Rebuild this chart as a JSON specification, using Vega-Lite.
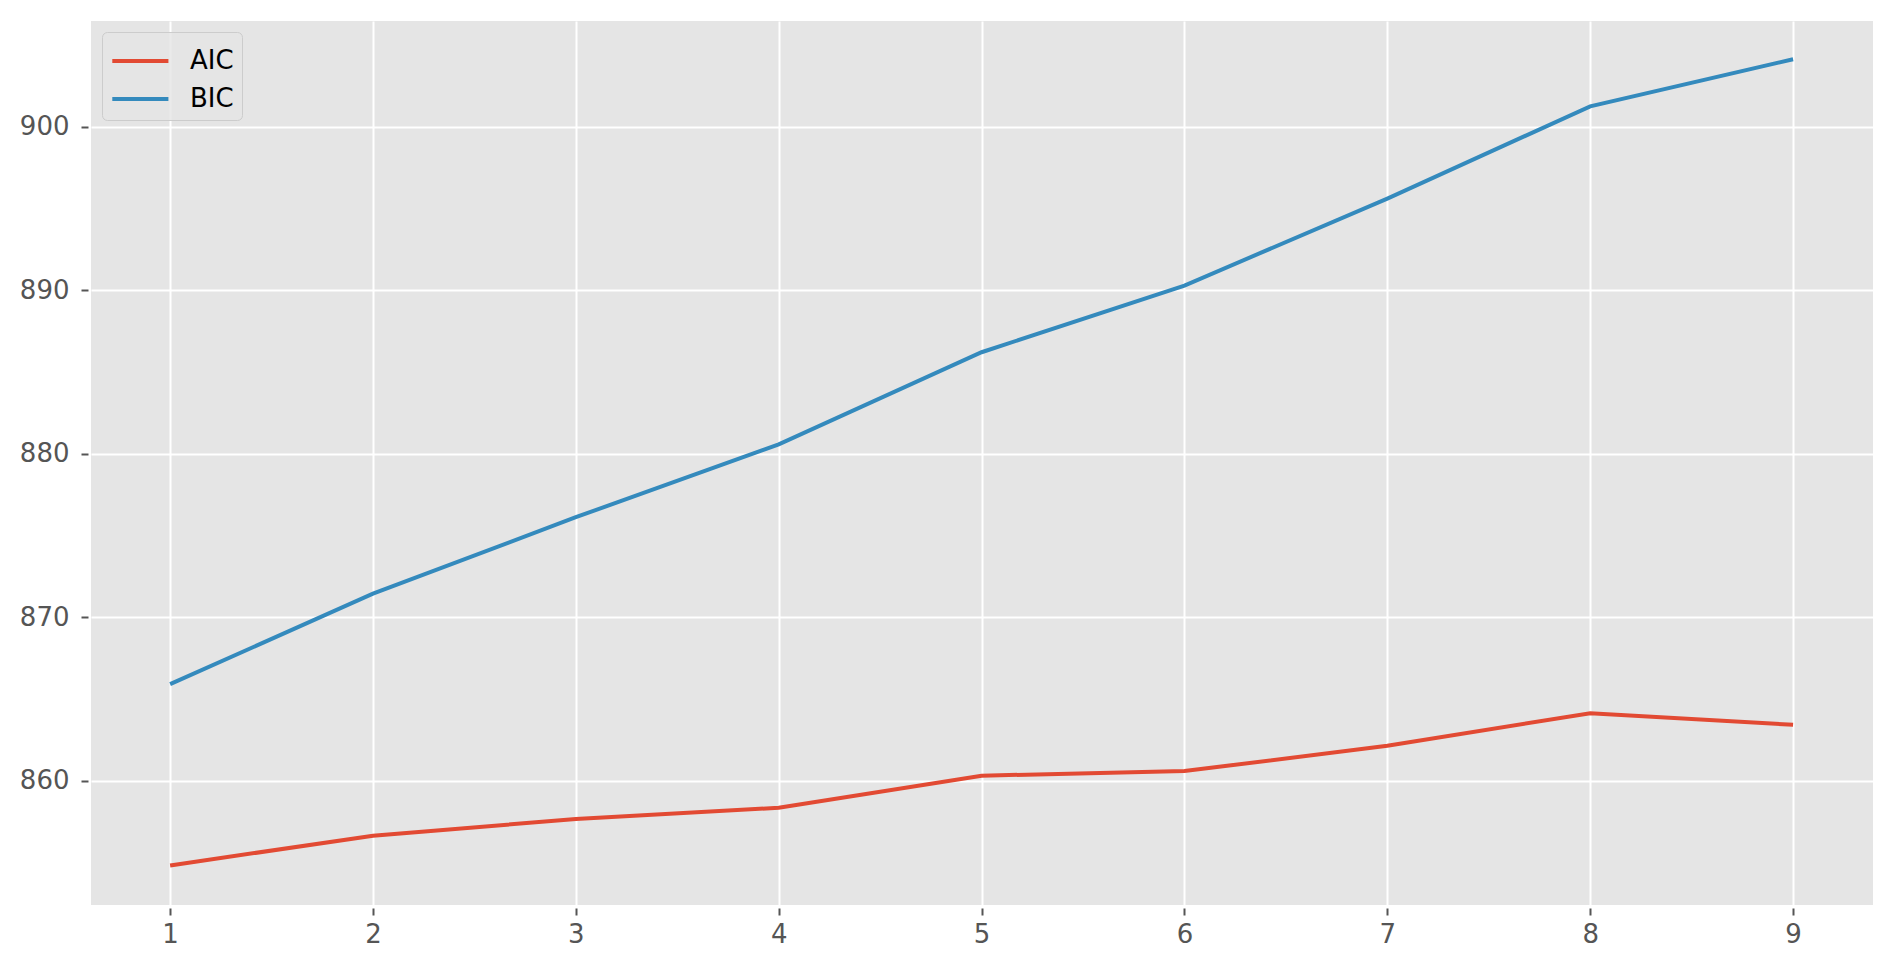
{
  "$schema": "https://vega.github.io/schema/vega-lite/v6.json",
  "width": 1782,
  "height": 884,
  "autosize": "none",
  "padding": {"left": 91, "top": 21, "right": 20, "bottom": 65},
  "background": "white",
  "config": {
    "view": {"fill": "#E5E5E5", "stroke": null},
    "font": "DejaVu Sans"
  },
  "data": {
    "values": [
      {"k": 1, "criterion": "AIC", "value": 854.82},
      {"k": 2, "criterion": "AIC", "value": 856.64},
      {"k": 3, "criterion": "AIC", "value": 857.66},
      {"k": 4, "criterion": "AIC", "value": 858.35},
      {"k": 5, "criterion": "AIC", "value": 860.31},
      {"k": 6, "criterion": "AIC", "value": 860.59},
      {"k": 7, "criterion": "AIC", "value": 862.14},
      {"k": 8, "criterion": "AIC", "value": 864.13},
      {"k": 9, "criterion": "AIC", "value": 863.42},
      {"k": 1, "criterion": "BIC", "value": 865.91},
      {"k": 2, "criterion": "BIC", "value": 871.44},
      {"k": 3, "criterion": "BIC", "value": 876.12},
      {"k": 4, "criterion": "BIC", "value": 880.57},
      {"k": 5, "criterion": "BIC", "value": 886.21},
      {"k": 6, "criterion": "BIC", "value": 890.29},
      {"k": 7, "criterion": "BIC", "value": 895.61},
      {"k": 8, "criterion": "BIC", "value": 901.25},
      {"k": 9, "criterion": "BIC", "value": 904.13}
    ]
  },
  "mark": {"type": "line", "strokeWidth": 4, "clip": true},
  "encoding": {
    "x": {
      "field": "k",
      "type": "quantitative",
      "scale": {"domain": [0.61, 9.394], "nice": false, "zero": false},
      "axis": {
        "title": null,
        "values": [1, 2, 3, 4, 5, 6, 7, 8, 9],
        "format": "d",
        "domain": false,
        "grid": true,
        "gridColor": "white",
        "gridWidth": 2,
        "gridOpacity": 1,
        "ticks": true,
        "tickColor": "#555555",
        "tickSize": 7,
        "tickWidth": 2,
        "offset": 3,
        "labelColor": "#555555",
        "labelFontSize": 26,
        "labelPadding": 6,
        "labelFont": "DejaVu Sans"
      }
    },
    "y": {
      "field": "value",
      "type": "quantitative",
      "scale": {"domain": [852.4, 906.47], "nice": false, "zero": false},
      "axis": {
        "title": null,
        "values": [860, 870, 880, 890, 900],
        "format": "d",
        "domain": false,
        "grid": true,
        "gridColor": "white",
        "gridWidth": 2,
        "gridOpacity": 1,
        "ticks": true,
        "tickColor": "#555555",
        "tickSize": 7,
        "tickWidth": 2,
        "offset": 3,
        "labelColor": "#555555",
        "labelFontSize": 26,
        "labelPadding": 12,
        "labelFont": "DejaVu Sans"
      }
    },
    "color": {
      "field": "criterion",
      "type": "nominal",
      "scale": {"domain": ["AIC", "BIC"], "range": ["#E24A33", "#348ABD"]},
      "legend": {
        "title": null,
        "orient": "none",
        "legendX": 11,
        "legendY": 11,
        "direction": "vertical",
        "symbolType": "M-1,0H2",
        "symbolSize": 1399,
        "symbolStrokeWidth": 4,
        "labelFontSize": 26,
        "labelFont": "DejaVu Sans",
        "labelColor": "#000000",
        "labelOffset": 38,
        "rowPadding": 4,
        "padding": 8,
        "fillColor": "rgba(229,229,229,0.8)",
        "strokeColor": "#CCCCCC",
        "cornerRadius": 5
      }
    }
  }
}
